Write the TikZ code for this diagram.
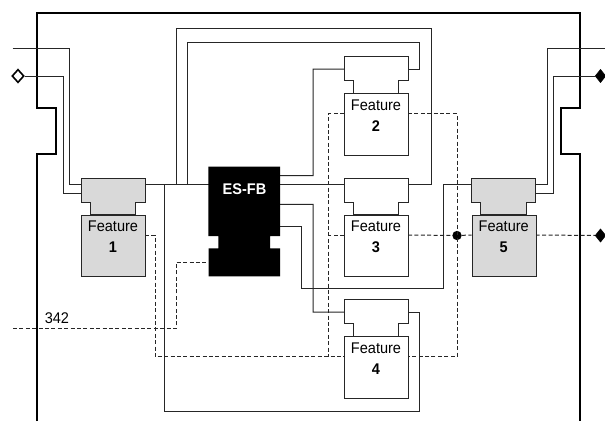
\documentclass[tikz,border=0pt]{standalone}
\usepackage{fontspec}
\setmainfont{Liberation Sans}[FakeStretch=0.94]
\usetikzlibrary{shapes.geometric}
\tikzset{
  wire/.style={line width=0.75pt,draw=black!85,line join=miter},
  dashwire/.style={wire,dash pattern=on 3pt off 1.8pt},
  frameline/.style={line width=1.5pt,draw=black,line join=miter},
  fblock/.style={draw=black!85,line width=0.75pt,rectangle,inner sep=0pt,anchor=north west,minimum width=48pt,minimum height=46pt},
  ftext/.style={inner sep=0pt,anchor=north,align=center,font=\fontsize{11.6}{15.9}\selectfont},
  plain/.style={fill=white},
  shaded/.style={fill=black!15},
  opendia/.style={diamond,draw=black,fill=white,line width=1.2pt,inner sep=0pt,minimum width=9pt,minimum height=10pt},
  soliddia/.style={diamond,draw=black,fill=black,line width=0.4pt,inner sep=0pt,minimum width=8pt,minimum height=10pt},
  dot/.style={circle,fill=black,inner sep=0pt,minimum size=7pt},
}
% #1 name, #2 x, #3 top y, #4 number, #5 fill style
\newcommand{\featureblock}[5]{%
  \begin{scope}[shift={(#2,#3)}]
    \draw[wire,#5] (0,0) -- (64,0) -- (64,24) -- (54.5,24) -- (54.5,36.5) -- (9,36.5) -- (9,24) -- (0,24) -- cycle;
    \node[fblock,#5] (#1) at (0,36.5) {};
    \node[ftext] (#1t) at (32,42.5) {Feature\\\textbf{#4}};
  \end{scope}}
% #1 name, #2 x, #3 top y
\newcommand{\featureports}[3]{%
  \begin{scope}[shift={(#2,#3)}]
    \coordinate (#1la) at (0,6.5);
    \coordinate (#1lb) at (0,12.3);
    \coordinate (#1lc) at (0,15.5);
    \coordinate (#1ra) at (64,6.5);
    \coordinate (#1rb) at (64,12.3);
    \coordinate (#1rc) at (64,15.5);
    \coordinate (#1dl) at (0,57);
    \coordinate (#1dr) at (64,57);
  \end{scope}}
\begin{document}
\begin{tikzpicture}[x=0.75pt,y=-0.75pt]
\useasboundingbox (0,0) rectangle (605,421);
\fill[white] (0,0) rectangle (605,421);
% frame
\draw[frameline] (36.5,421) -- (36.5,154) -- (55.5,154) -- (55.5,107.5) -- (36.5,107.5) -- (36.5,13) -- (579.5,13) -- (579.5,107.5) -- (561,107.5) -- (561,154) -- (579.5,154) -- (579.5,421);
% ports
\featureports{fa}{81}{178}
\featureports{fb}{344}{56.7}
\featureports{fc}{344}{178}
\featureports{fd}{344}{299.7}
\featureports{fe}{471.7}{178}
\coordinate (esl) at (208.5,184.5);
\coordinate (esdl) at (208.5,262);
\coordinate (esa) at (280,175.7);
\coordinate (esb) at (280,184.5);
\coordinate (esc) at (280,204.3);
\coordinate (esd) at (280,226.3);
\coordinate (inA) at (12.5,48.5);
\coordinate (outA) at (605,48.5);
\coordinate (in342) at (13,328.7);
\node[opendia] (dl) at (18,76) {};
\node[soliddia] (dra) at (600.5,76) {};
\node[soliddia] (drb) at (600.5,235.5) {};
\node[dot] (jn) at (457,235.5) {};
% solid wires
\draw[wire] (inA) -| (69.5,184.5) -- (fala);
\draw[wire] (dl) -| (63,193.5) -- (falc);
\draw[wire] (fara) -- (esl);
\draw[wire] (164.5,184.5) |- (419.3,411.7) |- (fdrb);
\draw[wire] (176,184.5) |- (431,28.3) |- (fcra);
\draw[wire] (187.7,184.5) |- (419.3,42.7) |- (fbrb);
\draw[wire] (esa) -| (313,69) -- (fblb);
\draw[wire] (esb) -- (fcla);
\draw[wire] (esc) -| (313,312) -- (fdlb);
\draw[wire] (esd) -| (301.3,288) -| (443,184.5) -- (fela);
\draw[wire] (fera) -| (547.3,48.5) -- (outA);
\draw[wire] (ferc) -| (553.7,76) -- (dra);
% dashed wires
\draw[dashwire] (fadr) -| (155,356.7) -- (fddl);
\draw[dashwire] (in342) -| (176,262) -- (esdl);
\draw[dashwire] (fbdl) -| (328.3,356.7);
\draw[dashwire] (fcdl) -- (328.3,235);
\draw[dashwire] (fbdr) -| (457,356.7) -- (fddr);
\draw[dashwire] (fcdr) -- (jn) -- (fedl);
\draw[dashwire] (fedr) -- (drb);
% blocks
\featureblock{fa}{81}{178}{1}{shaded}
\featureblock{fb}{344}{56.7}{2}{plain}
\featureblock{fc}{344}{178}{3}{plain}
\featureblock{fd}{344}{299.7}{4}{plain}
\featureblock{fe}{471.7}{178}{5}{shaded}
% ES-FB
\fill[black] (208.3,166.5) -- (280,166.5) -- (280,236) -- (270,236) -- (270,248.3) -- (280,248.3) -- (280,276.3) -- (208.7,276.3) -- (208.7,248.3) -- (218.3,248.3) -- (218.3,236) -- (208.3,236) -- cycle;
\node[inner sep=0pt,text=white,font=\fontsize{11.6}{13}\selectfont\bfseries] (es) at (244.5,189.5) {ES-FB};
\node[inner sep=0pt,anchor=base west,font=\fontsize{11.6}{13}\selectfont] (lab) at (44.5,323) {342};
\end{tikzpicture}
\end{document}
